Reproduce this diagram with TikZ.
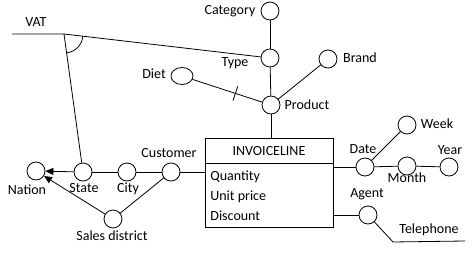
\documentclass[tikz,border=0pt]{standalone}
\usepackage{fontspec}
\setmainfont{Carlito}
\usetikzlibrary{shapes.geometric,arrows.meta,calc}
\begin{document}
\begin{tikzpicture}[x=1pt,y=-1pt,
  every path/.style={line width=0.8pt},
  attr/.style={circle,draw,minimum size=18pt,inner sep=0pt},
  lbl/.style={inner sep=0pt,text height=1.4ex,text depth=0pt,font=\fontsize{14}{16}\selectfont},
  arr/.style={-{Triangle[length=8pt,width=7pt]}}]
\useasboundingbox (0,0) rectangle (471,257);
% attribute circles
\node[attr] (category) at (270,11) {};
\node[attr] (type) at (270,58) {};
\node[attr] (brand) at (328,59) {};
\node[attr] (product) at (271,105) {};
\node[ellipse,draw,minimum width=22pt,minimum height=17pt,inner sep=0pt] (diet) at (182,76) {};
\node[attr] (nation) at (36,171) {};
\node[attr] (state) at (83,172) {};
\node[attr] (city) at (127,172) {};
\node[attr] (customer) at (171,172) {};
\node[attr] (sales) at (113,219) {};
\node[attr] (date) at (365,167) {};
\node[attr] (month) at (407,166) {};
\node[attr] (year) at (449,167) {};
\node[attr] (week) at (407,125) {};
\node[attr] (agent) at (368,215) {};
% fact box
\node[draw,minimum width=128pt,minimum height=89pt,inner sep=0pt] (box) at (269,182.5) {};
\coordinate (hdl) at (205,163);
\coordinate (hdr) at (333,163);
\draw (hdl) -- (hdr);
\node[lbl] (title) at (269,152) {INVOICELINE};
\node[lbl,anchor=west] (q) at (210,177) {Quantity};
\node[lbl,anchor=west] (u) at (210,197) {Unit price};
\node[lbl,anchor=west] (d) at (210,217) {Discount};
% labels
\node[lbl] (lvat) at (36,23) {VAT};
\node[lbl] (lcat) at (230,11) {Category};
\node[lbl] (ltype) at (235,63) {Type};
\node[lbl] (lbrand) at (360,59) {Brand};
\node[lbl] (ldiet) at (154,75) {Diet};
\node[lbl] (lprod) at (307,106) {Product};
\node[lbl] (lcust) at (169,154) {Customer};
\node[lbl] (lnation) at (27,191) {Nation};
\node[lbl] (lstate) at (84,189) {State};
\node[lbl] (lcity) at (128,189) {City};
\node[lbl] (lsales) at (112,237) {Sales district};
\node[lbl] (ldate) at (363,150) {Date};
\node[lbl] (lweek) at (437,125) {Week};
\node[lbl] (lyear) at (450,151) {Year};
\node[lbl] (lmonth) at (407,179) {Month};
\node[lbl] (lagent) at (367,194) {Agent};
\node[lbl] (ltel) at (429,230) {Telephone};
% hierarchy lines
\draw (category) -- (type);
\draw (type) -- (product);
\draw (brand) -- (product);
\draw (diet) -- (product);
\coordinate (tk) at ($(diet)!0.6!(product)$);
\draw ($(tk)!7.5pt!90:(product)$) -- ($(tk)!7.5pt!-90:(product)$);
\draw (product) -- (product |- box.north);
% VAT
\coordinate (vatend) at (12,34);
\coordinate (corner) at (64,34);
\draw (vatend) -- (corner) -- (type);
\draw (corner) -- (state);
\coordinate (a1) at ($(corner)!19pt!(type)$);
\coordinate (a2) at ($(corner)!19pt!(state)$);
\draw (a1) to[bend left=38] (a2);
% customer side
\draw (customer) -- (customer -| box.west);
\draw (customer) -- (city);
\draw (city) -- (state);
\draw[arr] (state) -- (nation);
\draw (customer) -- (sales);
\draw[arr] (sales) -- (nation);
% date side
\draw (date) -- (date -| box.east);
\draw (date) -- (month);
\draw (month) -- (year);
\draw (date) -- (week);
\draw (agent) -- (agent -| box.east);
\coordinate (tc) at (393,242);
\coordinate (te) at (465,241);
\draw (agent) -- (tc) -- (te);
\end{tikzpicture}
\end{document}
